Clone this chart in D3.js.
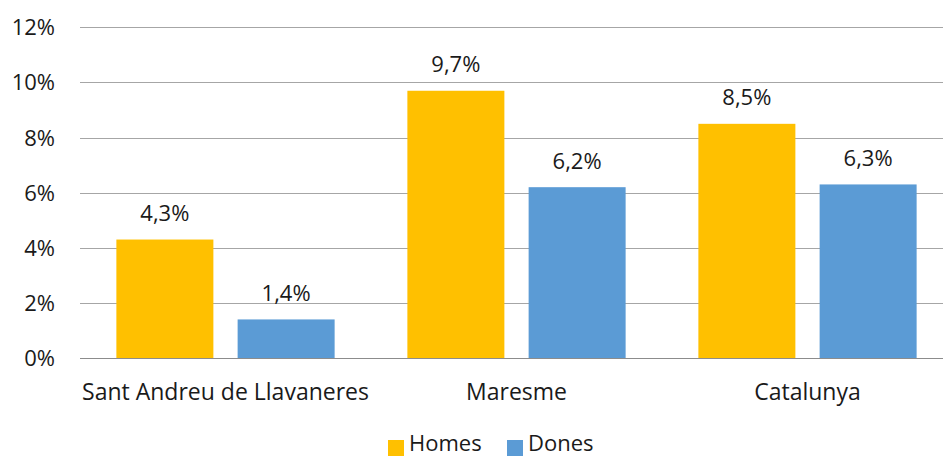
<!DOCTYPE html>
<html><head><meta charset="utf-8">
<script src="https://cdn.jsdelivr.net/npm/d3@7"></script>
<style>body{margin:0;background:#fff}svg{display:block}text{font-family:"Open Sans",sans-serif;fill:#1a1a1a}</style>
</head><body><svg id="c" width="943" height="457"></svg>
<script>
const categories = ["Sant Andreu de Llavaneres", "Maresme", "Catalunya"];
const seriesNames = ["Homes", "Dones"];
const homes = [4.3, 9.7, 8.5];
const dones = [1.4, 6.2, 6.3];
const yTicks = [0, 2, 4, 6, 8, 10, 12];
const colors = ["#FFC000", "#5B9BD5"];

const svg = d3.select("#c");
const y = d3.scaleLinear().domain([0, 12]).range([358, 27.4]);
const x0 = d3.scaleBand().domain(categories).range([80, 953]).paddingInner(0.25).paddingOuter(0.125);
const x1 = d3.scaleBand().domain(seriesNames).range([0, x0.bandwidth()]).paddingInner(0.2);

// gridlines
svg.append("g").selectAll("line").data(yTicks).join("line")
  .attr("x1", 80).attr("x2", 943)
  .attr("y1", d => Math.round(y(d)) + 0.5).attr("y2", d => Math.round(y(d)) + 0.5)
  .attr("stroke", d => d === 0 ? "#8c8c8c" : "#a6a6a6").attr("stroke-width", 1.2);

// y tick labels
svg.append("g").selectAll("text").data(yTicks).join("text")
  .attr("x", 55).attr("y", d => y(d)).attr("dy", "0.36em")
  .attr("text-anchor", "end").attr("font-size", 22)
  .text(d => d + "%");

const data = categories.map((c, i) => ({c, vals: [homes[i], dones[i]]}));
const g = svg.append("g").selectAll("g").data(data).join("g")
  .attr("transform", d => `translate(${x0(d.c)},0)`);

g.selectAll("rect").data(d => d.vals.map((v, j) => ({v, s: seriesNames[j], j}))).join("rect")
  .attr("x", d => x1(d.s)).attr("width", x1.bandwidth())
  .attr("y", d => y(d.v)).attr("height", d => y(0) - y(d.v))
  .attr("fill", d => colors[d.j]);

g.selectAll("text.lbl").data(d => d.vals.map((v, j) => ({v, s: seriesNames[j]}))).join("text")
  .attr("class", "lbl")
  .attr("x", d => x1(d.s) + x1.bandwidth() / 2).attr("y", d => y(d.v) - 18.5)
  .attr("text-anchor", "middle").attr("font-size", 22)
  .text(d => d.v.toFixed(1).replace(".", ",") + "%");

// category labels
svg.append("g").selectAll("text").data(categories).join("text")
  .attr("x", d => x0(d) + x0.bandwidth() / 2).attr("y", 400)
  .attr("text-anchor", "middle").attr("font-size", 23)
  .text(d => d);

// legend
const leg = svg.append("g");
const legX = [388, 507];
seriesNames.forEach((s, i) => {
  leg.append("rect").attr("x", legX[i]).attr("y", 440).attr("width", 16).attr("height", 16).attr("fill", colors[i]);
  leg.append("text").attr("x", legX[i] + 21).attr("y", 451).attr("font-size", 22).text(s);
});
</script></body></html>
